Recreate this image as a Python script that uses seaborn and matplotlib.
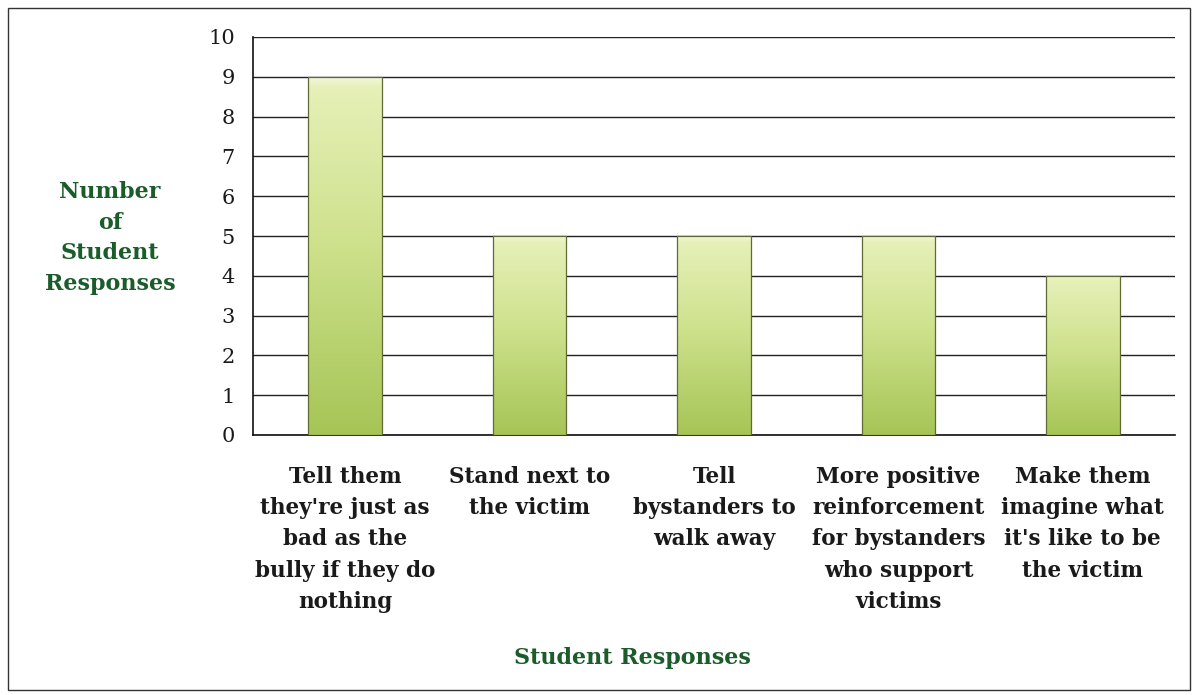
import numpy as np
import pandas as pd
import matplotlib.pyplot as plt
import matplotlib.patches as mpatches
import seaborn as sns
from matplotlib.colors import LinearSegmentedColormap

categories = [
    "Tell them\nthey're just as\nbad as the\nbully if they do\nnothing",
    "Stand next to\nthe victim",
    "Tell\nbystanders to\nwalk away",
    "More positive\nreinforcement\nfor bystanders\nwho support\nvictims",
    "Make them\nimagine what\nit's like to be\nthe victim",
]
counts = [9, 5, 5, 5, 4]

df = pd.DataFrame({"response": categories, "count": counts})

sns.set_style("white")
plt.rcParams['font.family'] = ['DejaVu Serif']

W, H = 1197, 695
fig = plt.figure(figsize=(W / 100, H / 100), dpi=100)
ax = fig.add_axes([253 / W, 1 - 435 / H, (1175 - 253) / W, (435 - 37) / H])

sns.barplot(data=df, x="response", y="count", ax=ax, width=0.4,
            color="#cfe08c", edgecolor="#5f6a35", linewidth=0.9, zorder=3)

# vertical gradient fill in each bar, lighter at the top like the bevelled original
cmap = LinearSegmentedColormap.from_list(
    "g", [(0, "#a6c556"), (0.55, "#cfe28e"), (0.97, "#e6f0b8"), (1, "#f4f8dc")])
grad = np.linspace(0, 1, 256).reshape(-1, 1)
for p in ax.patches:
    x0, y0 = p.get_x(), p.get_y()
    w, h = p.get_width(), p.get_height()
    im = ax.imshow(grad, cmap=cmap, origin="lower", aspect="auto",
                   extent=[x0, x0 + w, y0, y0 + h], zorder=3.5)
    im.set_clip_path(p)
    p.set_facecolor("none")
    p.set_zorder(4)

ax.set_xlim(-0.5, len(categories) - 0.5)
ax.set_ylim(0, 10)
ax.set_yticks(range(0, 11))
ax.yaxis.grid(True, color="#222222", linewidth=1.0, zorder=0)
ax.set_axisbelow(True)

for s in ["top", "right"]:
    ax.spines[s].set_visible(False)
for s in ["left", "bottom"]:
    ax.spines[s].set_color("#111111")
    ax.spines[s].set_linewidth(1.2)

ax.set_xticks(np.arange(-0.5, len(categories), 1.0), minor=True)
ax.set_xticks(range(len(categories)))
ax.set_xticklabels(categories, fontsize=15.5, fontweight="bold", linespacing=1.55,
                   va="top", color="#1a1a1a")
ax.tick_params(axis="x", which="major", length=0, pad=22)
ax.tick_params(axis="x", which="minor", length=6, width=1.2, color="#111111", direction="out")
ax.tick_params(axis="y", length=5, width=1.2, color="#111111", direction="out",
               labelsize=15, pad=8, labelcolor="#1a1a1a")

ax.set_xlabel("")
ax.set_ylabel("")
fig.text(110 / W, 1 - 238 / H, "Number\nof\nStudent\nResponses", ha="center", va="center",
         fontsize=16, fontweight="bold", color="#1a5c2a", linespacing=1.5)
fig.text(632 / W, 1 - 658 / H, "Student Responses", ha="center", va="center",
         fontsize=16, fontweight="bold", color="#1a5c2a")

# outer frame
fig.patches.append(mpatches.Rectangle((8 / W, 1 - 690 / H), 1182 / W, 682 / H,
                                      transform=fig.transFigure, fill=False,
                                      edgecolor="#333333", linewidth=1.0))

fig.savefig("out.png", dpi=100)
